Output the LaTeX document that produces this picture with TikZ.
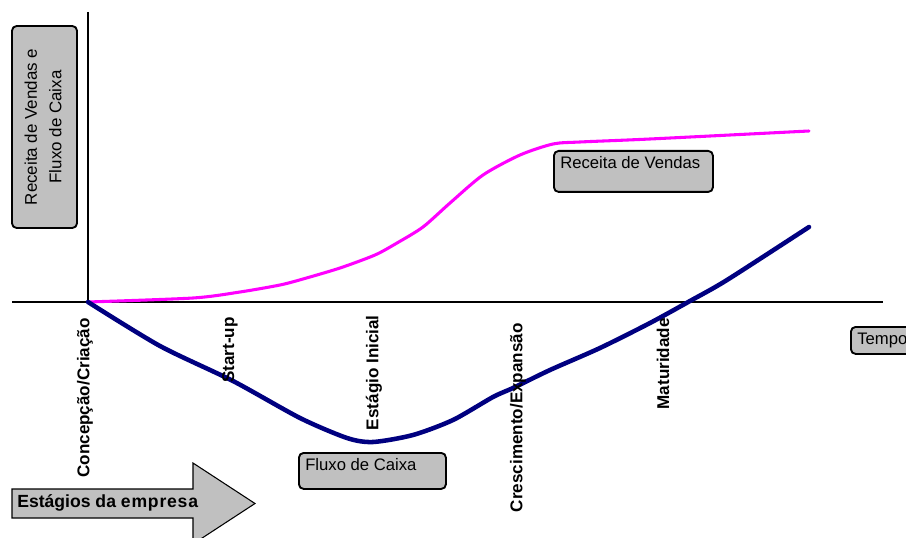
\documentclass[tikz,border=0pt]{standalone}
\usepackage{fontspec}
\setmainfont{Liberation Sans}
\definecolor{boxgray}{HTML}{C0C0C0}
\definecolor{revenue}{HTML}{FF00FF}
\definecolor{cashflow}{HTML}{000080}
\newcommand{\lsp}{\kern0.6pt}
\begin{document}
\begin{tikzpicture}[x=0.75pt,y=-0.75pt,
  labelbox/.style={draw=black,line width=1.4pt,fill=boxgray,rounded corners=3.5pt,inner sep=0pt},
  boxtext/.style={font=\fontsize{12.5}{15}\selectfont,inner sep=0pt,anchor=west},
  stage/.style={font=\fontsize{12.8}{15}\selectfont\bfseries,rotate=90,anchor=east,inner sep=0pt},
  axis/.style={draw=black,line cap=butt},
  curve/.style={line cap=round,line join=round}]
\useasboundingbox (0,0) rectangle (906,538);
\clip (0,0) rectangle (906,538);

% origin of the axes
\coordinate (O) at (88,302);
\coordinate (ytop) at (88,12);
\coordinate (xleft) at (12,302);
\coordinate (xright) at (883,302);

% axes
\draw[axis,line width=0.9pt] (ytop) -- (O);
\draw[axis,line width=1.6pt] (xleft) -- (xright);

% vertical axis label
\node[labelbox,minimum width=48.75pt,minimum height=151.5pt] (ylab) at (44.5,127) {};
\node[font=\fontsize{12.7}{18.4}\selectfont,rotate=90,align=center,inner sep=0pt] (ylabtxt) at ([xshift=-1pt]ylab.center) {Receita de Vendas e\\Fluxo de Caixa};

% sales revenue curve
\draw[curve,revenue,line width=2.3pt] plot[smooth,tension=0.45] coordinates {
  (88,302) (193,298) (240,292) (280,285) (303,279) (340,268) (375,255)
  (397,243) (423,227) (450,203) (483,175) (520,155) (553,144) (580,142)
  (650,139) (809,131)};

% cash flow curve
\draw[curve,cashflow,line width=3.4pt] plot[smooth,tension=0.45] coordinates {
  (88,302) (160,346) (233,381) (300,418) (347,438) (373,442) (413,435)
  (453,420) (493,397) (513,388) (550,370) (600,348) (650,323) (690,301)
  (727,280) (809,227)};

% curve labels
\node[labelbox,minimum width=119.25pt,minimum height=30.75pt,anchor=north west] (rv) at (553,150) {};
\node[boxtext] (rvtxt) at (560,163) {Receita de Vendas};

\node[labelbox,minimum width=110.25pt,minimum height=27pt,anchor=north west] (fc) at (298,452) {};
\node[boxtext] (fctxt) at (305,465) {Fluxo de Caixa};

% time axis label
\node[labelbox,minimum width=60pt,minimum height=20.25pt,anchor=north west] (tp) at (850,326) {};
\node[boxtext] (tptxt) at (857,340) {Tempo};

% stage names along the time axis
\node[stage] (s1) at (85,318) {Concepção/Criação};
\node[stage] (s2) at (230,317) {Start-up};
\node[stage] (s3) at (374,315) {Estágio Inicial};
\node[stage] (s4) at (518,323) {Crescimento/Expansão};
\node[stage] (s5) at (663,318) {Maturidade};

% stages arrow
\draw[draw=black,line width=0.8pt,fill=boxgray,line join=miter]
  (12,489) -- (193,489) -- (193,463) -- (255,503.5) -- (193,544)
  -- (193,518) -- (12,518) -- cycle;
\node[font=\fontsize{13.2}{15}\selectfont\bfseries,anchor=west,inner sep=0pt] (arrtxt) at (17,503)
  {Estágios da e\lsp m\lsp p\lsp r\lsp e\lsp s\lsp a};
\end{tikzpicture}
\end{document}
